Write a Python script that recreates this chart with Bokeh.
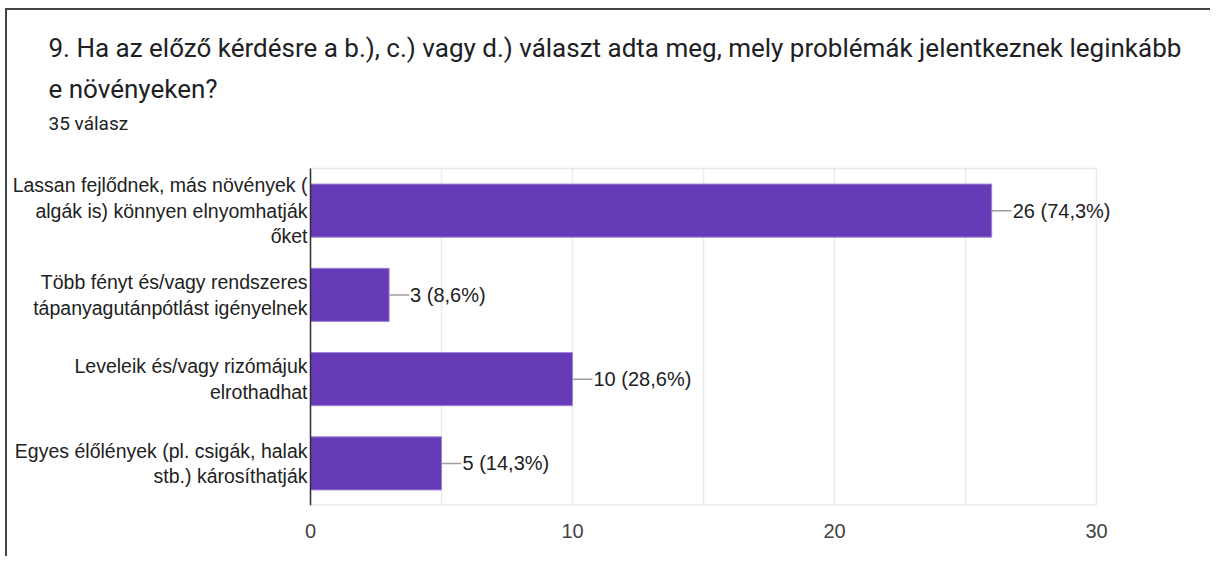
from bokeh.plotting import figure
from bokeh.models import Label, Range1d, FixedTicker
from bokeh.embed import file_html
from bokeh.resources import INLINE

# ---- data ----
title_line1 = "9. Ha az előző kérdésre a b.), c.) vagy d.) választ adta meg, mely problémák jelentkeznek leginkább"
title_line2 = "e növényeken?"
subtitle = "35 válasz"
categories = [
    "Lassan fejlődnek, más növények (\nalgák is) könnyen elnyomhatják\nőket",
    "Több fényt és/vagy rendszeres\ntápanyagutánpótlást igényelnek",
    "Leveleik és/vagy rizómájuk\nelrothadhat",
    "Egyes élőlények (pl. csigák, halak\nstb.) károsíthatják",
]
counts = [26, 3, 10, 5]
percent_labels = ["74,3%", "8,6%", "28,6%", "14,3%"]
x_ticks = [0, 10, 20, 30]
grid_ticks = [0, 5, 10, 15, 20, 25, 30]

# ---- layout geometry (canvas pixels) ----
W, H = 1205, 548
AX_L, AX_R = 303, 1089      # canvas x of value 0 and value XMAX
AX_T, AX_B = 158, 495       # canvas y of chart area top / bottom
XMAX = 30
NCAT = len(categories)
px_x = (AX_R - AX_L) / XMAX
px_y = (AX_B - AX_T) / NCAT


def dx(cx):
    return (cx - AX_L) / px_x


def dy(cy):
    return (AX_B - cy) / px_y


ys = [NCAT - i - 0.5 for i in range(NCAT)]

p = figure(width=W, height=H, x_range=Range1d(dx(0), dx(W)), y_range=Range1d(0, dy(0)),
           output_backend="svg", toolbar_location=None, y_axis_location=None,
           min_border_left=0, min_border_right=0, min_border_top=0, min_border_bottom=H - AX_B)
p.styles = {"margin-left": "5px", "margin-top": "8px",
            "border-top": "2px solid #454545", "border-left": "2px solid #454545"}
p.background_fill_color = "white"
p.border_fill_color = "white"
p.outline_line_color = None
p.xgrid.visible = False
p.ygrid.visible = False

ax = p.xaxis[0]
ax.ticker = FixedTicker(ticks=x_ticks)
ax.axis_line_color = None
ax.major_tick_line_color = None
ax.minor_tick_line_color = None
ax.major_label_standoff = 12
ax.major_label_text_font = "Liberation Sans"
ax.major_label_text_font_size = "20px"
ax.major_label_text_color = "#444444"

# chart area: grid lines and border
p.segment(x0=grid_ticks, y0=0, x1=grid_ticks, y1=NCAT, line_color="#ececec", line_width=1.5)
p.segment(x0=0, y0=NCAT, x1=XMAX, y1=NCAT, line_color="#e8e8e8", line_width=1.5)
p.segment(x0=0, y0=0, x1=XMAX, y1=0, line_color="#e6e6e6", line_width=2.5)

p.hbar(y=ys, left=0, right=counts, height=0.63, fill_color="#673ab7",
       line_color="#9c84d6", line_width=1)

# left axis line
p.segment(x0=0, y0=0, x1=0, y1=NCAT, line_color="#333333", line_width=1.5)

lead_px = 20
lead = lead_px / px_x
p.segment(x0=counts, y0=ys, x1=[c + lead for c in counts], y1=ys,
          line_color="#9e9e9e", line_width=1.5)

for c, pct, y in zip(counts, percent_labels, ys):
    p.add_layout(Label(x=c, y=y, x_offset=lead_px + 1, text=f"{c} ({pct})",
                       text_baseline="middle", text_align="left",
                       text_font="Liberation Sans", text_font_size="20px",
                       text_color="#222222"))

for cat, y in zip(categories, ys):
    p.add_layout(Label(x=0, y=y, x_offset=-3, text=cat,
                       text_baseline="middle", text_align="right",
                       text_line_height=1.15,
                       text_font="Liberation Sans", text_font_size="19.5px",
                       text_color="#222222"))

for txt, cy, size in [(title_line1, 37, "26px"), (title_line2, 78, "26px"), (subtitle, 113, "19px")]:
    p.add_layout(Label(x=dx(41), y=dy(cy), text=txt,
                       text_baseline="middle", text_align="left",
                       text_font="Roboto", text_font_size=size,
                       text_color="#202124"))

open("out.html", "w").write(file_html(p, INLINE))
